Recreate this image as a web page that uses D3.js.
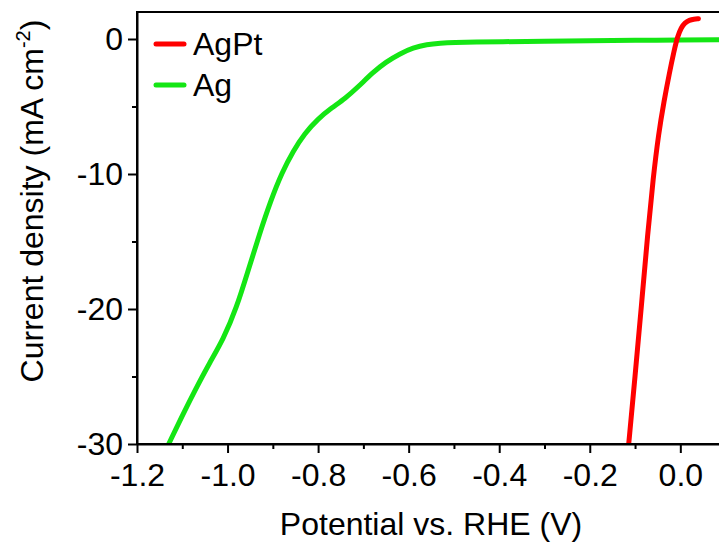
<!DOCTYPE html>
<html>
<head>
<meta charset="utf-8">
<script src="https://cdn.jsdelivr.net/npm/d3@7"></script>
<style>
  body { margin: 0; background: #fff; }
  svg { display: block; }
  text { font-family: "Liberation Sans", Arial, sans-serif; fill: #000; }
  .axis path, .axis line { stroke: #000; stroke-width: 2; }
</style>
</head>
<body>
<div id="chart"></div>
<script>
// data (potential in V vs. RHE, current density in mA cm-2)
var agPtV = [-0.114, -0.100, -0.086, -0.072, -0.060, -0.048, -0.036, -0.024, -0.014, -0.006, 0.002, 0.010, 0.020, 0.030, 0.040];
var agPtJ = [-30, -25, -19.8, -14.4, -10.3, -7.0, -4.6, -2.5, -0.9, 0.2, 0.85, 1.2, 1.4, 1.48, 1.5];

var agV = [-1.13, -1.10, -1.07, -1.04, -1.01, -0.98, -0.955, -0.93, -0.905, -0.88, -0.855, -0.83, -0.80, -0.77, -0.74, -0.71, -0.68, -0.65, -0.62, -0.59, -0.56, -0.53, -0.50, -0.45, -0.40, -0.30, -0.20, -0.10, 0.00, 0.10];
var agJ = [-30, -27.9, -25.9, -24.0, -22.3, -19.9, -17.2, -14.5, -12.0, -9.9, -8.3, -7.0, -5.9, -5.1, -4.4, -3.5, -2.5, -1.7, -1.1, -0.65, -0.4, -0.3, -0.25, -0.22, -0.2, -0.17, -0.13, -0.1, -0.08, -0.06];

var seriesNames = ["AgPt", "Ag"];
var seriesColors = ["#ff0000", "#14e614"];

var xTicks = [-1.2, -1.0, -0.8, -0.6, -0.4, -0.2, 0.0];
var xMinor = [-1.1, -0.9, -0.7, -0.5, -0.3, -0.1];
var yTicks = [0, -10, -20, -30];
var yMinor = [-5, -15, -25];

var W = 719, H = 546;
var svg = d3.select("#chart").append("svg")
	.attr("width", W)
	.attr("height", H);

var x = d3.scaleLinear().domain([-1.2, 0.1]).range([137, 725.6]);
var y = d3.scaleLinear().domain([-30, 2]).range([444, 12]);

svg.append("clipPath").attr("id", "plotClip")
	.append("rect")
	.attr("x", x(-1.2)).attr("y", y(2))
	.attr("width", x(0.1) - x(-1.2)).attr("height", y(-30) - y(2));

var line = d3.line()
	.x(function(d) { return x(d[0]); })
	.y(function(d) { return y(d[1]); })
	.curve(d3.curveBasis);

var agPt = agPtV.map(function(v, i) { return [v, agPtJ[i]]; });
var ag = agV.map(function(v, i) { return [v, agJ[i]]; });

var plot = svg.append("g").attr("clip-path", "url(#plotClip)");
[ag, agPt].forEach(function(dat, i) {
	plot.append("path")
		.datum(dat)
		.attr("d", line)
		.attr("fill", "none")
		.attr("stroke", seriesColors[1 - i])
		.attr("stroke-width", 5)
		.attr("stroke-linecap", "round")
		.attr("stroke-linejoin", "round");
});

// frame
svg.append("rect")
	.attr("x", x(-1.2)).attr("y", y(2))
	.attr("width", x(0.1) - x(-1.2)).attr("height", y(-30) - y(2))
	.attr("fill", "none")
	.attr("stroke", "#000")
	.attr("stroke-width", 2);

// x axis
svg.append("g").attr("class", "axis")
	.attr("transform", "translate(0," + y(-30) + ")")
	.call(d3.axisBottom(x).tickValues(xTicks).tickSize(9).tickSizeOuter(0).tickPadding(10)
		.tickFormat(function(d) { return d.toFixed(1); }));
svg.append("g").attr("class", "axis")
	.attr("transform", "translate(0," + y(-30) + ")")
	.call(d3.axisBottom(x).tickValues(xMinor).tickSize(5).tickSizeOuter(0).tickFormat(""))
	.select(".domain").remove();

// y axis
svg.append("g").attr("class", "axis")
	.attr("transform", "translate(" + x(-1.2) + ",0)")
	.call(d3.axisLeft(y).tickValues(yTicks).tickSize(9).tickSizeOuter(0).tickPadding(5)
		.tickFormat(function(d) { return String(d); }));
svg.append("g").attr("class", "axis")
	.attr("transform", "translate(" + x(-1.2) + ",0)")
	.call(d3.axisLeft(y).tickValues(yMinor).tickSize(5).tickSizeOuter(0).tickFormat(""))
	.select(".domain").remove();

svg.selectAll(".axis text")
	.style("font-family", "'Liberation Sans', Arial, sans-serif")
	.style("font-size", "32px")
	.attr("fill", "#000");

// axis titles
svg.append("text")
	.attr("x", 431)
	.attr("y", 535)
	.attr("text-anchor", "middle")
	.style("font-size", "32px")
	.text("Potential vs. RHE (V)");

var yTitle = svg.append("text")
	.attr("transform", "translate(43,201) rotate(-90)")
	.attr("text-anchor", "middle")
	.style("font-size", "32px");
yTitle.append("tspan").text("Current density (mA cm");
yTitle.append("tspan").attr("dy", -13).style("font-size", "20px").text("-2");
yTitle.append("tspan").attr("dy", 13).text(")");

// legend
var legend = svg.append("g");
seriesNames.forEach(function(name, i) {
	var ly = 44 + i * 41;
	legend.append("line")
		.attr("x1", 156).attr("x2", 184)
		.attr("y1", ly).attr("y2", ly)
		.attr("stroke", seriesColors[i])
		.attr("stroke-width", 5)
		.attr("stroke-linecap", "round");
	legend.append("text")
		.attr("x", 193)
		.attr("y", ly)
		.attr("dy", "0.35em")
		.style("font-size", "32px")
		.text(name);
});
</script>
</body>
</html>
